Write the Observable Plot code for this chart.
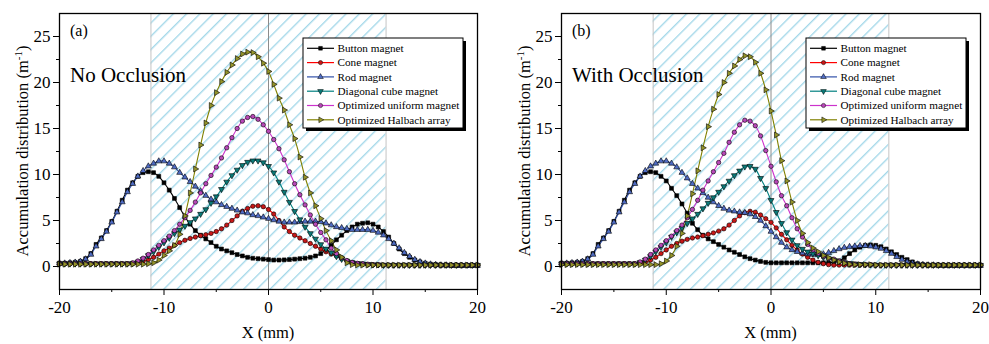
<!DOCTYPE html>
<html><head><meta charset="utf-8">
<script src="https://cdn.jsdelivr.net/npm/d3@7"></script>
<script src="https://cdn.jsdelivr.net/npm/@observablehq/plot@0.6"></script>
<style>
html,body{margin:0;padding:0;background:#fff;}
#wrap{display:flex;width:989px;height:344px;overflow:hidden;}
svg{display:block;}
svg, svg text, svg tspan{font-family:"Liberation Serif","Times New Roman",Times,serif !important;}
</style></head><body><div id="wrap"></div>
<script>
// ---------- data ----------
const xs = [-20,-19.5,-19,-18.5,-18,-17.5,-17,-16.5,-16,-15.5,
  -15,-14.5,-14,-13.5,-13,-12.5,-12,-11.5,-11,-10.5,
  -10,-9.5,-9,-8.5,-8,-7.5,-7,-6.5,-6,-5.5,
  -5,-4.5,-4,-3.5,-3,-2.5,-2,-1.5,-1,-0.5,
  0,0.5,1,1.5,2,2.5,3,3.5,4,4.5,
  5,5.5,6,6.5,7,7.5,8,8.5,9,9.5,
  10,10.5,11,11.5,12,12.5,13,13.5,14,14.5,
  15,15.5,16,16.5,17,17.5,18,18.5,19,19.5,
  20];

const seriesNames = ["Button magnet","Cone magnet","Rod magnet","Diagonal cube magnet","Optimized uniform magnet","Optimized Halbach array"];

// Panel (a) No Occlusion
const buttonA = [0.35,0.35,0.4,0.45,0.55,0.85,1.4,2.4,3.1,3.9,
  4.9,6.0,7.2,8.3,9.1,9.8,10.2,10.3,10.2,9.8,
  9.1,8.3,7.4,6.4,5.4,4.6,3.9,3.4,3.0,2.6,
  2.2,1.9,1.7,1.5,1.3,1.15,1.0,0.9,0.85,0.8,
  0.75,0.7,0.7,0.72,0.75,0.8,0.85,0.9,1.0,1.15,
  1.4,1.8,2.3,2.9,3.4,3.9,4.3,4.6,4.7,4.75,
  4.6,4.3,3.8,3.2,2.5,1.9,1.4,1.0,0.7,0.5,
  0.35,0.25,0.2,0.15,0.15,0.1,0.1,0.1,0.1,0.1,
  0.1];
const coneA = [0.3,0.3,0.3,0.3,0.3,0.3,0.3,0.3,0.3,0.3,
  0.3,0.3,0.3,0.3,0.3,0.4,0.55,0.75,1.0,1.35,
  1.7,2.0,2.3,2.6,2.85,3.05,3.2,3.35,3.45,3.6,
  3.8,4.1,4.5,5.0,5.5,6.0,6.3,6.55,6.6,6.5,
  6.2,5.7,5.0,4.3,3.8,3.4,3.1,2.8,2.5,2.2,
  1.9,1.6,1.35,1.15,0.9,0.6,0.4,0.3,0.25,0.2,
  0.18,0.16,0.15,0.15,0.15,0.15,0.15,0.15,0.15,0.15,
  0.15,0.15,0.15,0.15,0.15,0.15,0.15,0.15,0.15,0.15,
  0.15];
const rodA = [0.35,0.35,0.4,0.45,0.55,0.8,1.3,2.2,3.0,3.8,
  4.8,5.9,7.0,8.1,9.0,9.8,10.4,10.9,11.2,11.45,
  11.45,11.2,10.8,10.2,9.7,9.2,8.7,8.2,7.7,7.3,
  7.0,6.7,6.5,6.3,6.1,5.9,5.8,5.6,5.5,5.35,
  5.2,5.05,4.9,4.8,4.8,4.8,4.85,4.9,4.9,4.9,
  4.85,4.7,4.5,4.3,4.2,4.1,4.0,4.0,4.0,4.0,
  3.9,3.7,3.4,3.0,2.5,2.0,1.5,1.1,0.75,0.5,
  0.35,0.25,0.2,0.15,0.15,0.1,0.1,0.1,0.1,0.1,
  0.1];
const cubeA = [0.3,0.3,0.3,0.3,0.3,0.3,0.3,0.3,0.3,0.3,
  0.3,0.3,0.3,0.3,0.35,0.5,0.8,1.2,1.6,2.1,
  2.6,3.1,3.6,4.0,4.4,4.8,5.2,5.7,6.2,6.9,
  7.6,8.4,9.2,9.9,10.5,11.0,11.35,11.5,11.5,11.3,
  10.9,10.2,9.2,8.1,7.0,6.0,5.1,4.3,3.6,3.0,
  2.4,1.9,1.5,1.1,0.8,0.6,0.45,0.35,0.3,0.25,
  0.2,0.2,0.15,0.15,0.15,0.15,0.15,0.15,0.15,0.15,
  0.15,0.15,0.15,0.15,0.15,0.15,0.15,0.15,0.15,0.15,
  0.15];
const uniformA = [0.3,0.3,0.3,0.3,0.3,0.3,0.3,0.3,0.3,0.3,
  0.3,0.3,0.3,0.3,0.4,0.6,0.9,1.3,1.8,2.3,
  2.8,3.3,3.9,4.6,5.3,6.1,7.0,8.0,9.0,9.9,
  10.8,11.8,12.9,14.0,15.0,15.8,16.2,16.3,16.0,15.4,
  14.7,13.8,12.8,11.6,10.3,9.0,7.8,6.7,5.6,4.6,
  3.7,2.9,2.0,1.4,0.95,0.65,0.45,0.35,0.3,0.25,
  0.2,0.2,0.15,0.15,0.15,0.15,0.15,0.15,0.15,0.15,
  0.15,0.15,0.15,0.15,0.15,0.15,0.15,0.15,0.15,0.15,
  0.15];
const halbachA = [0.25,0.25,0.25,0.25,0.25,0.25,0.25,0.25,0.25,0.25,
  0.25,0.25,0.25,0.25,0.25,0.25,0.25,0.3,0.4,0.7,
  1.2,1.7,2.3,3.5,5.5,8.0,10.6,13.2,15.6,17.5,
  18.9,20.1,21.1,21.9,22.6,23.1,23.3,23.25,22.8,22.1,
  21.2,19.8,18.3,17.0,15.4,13.9,11.9,9.7,8.0,6.6,
  5.2,3.9,2.8,1.8,1.0,0.4,0.2,0.15,0.15,0.15,
  0.15,0.15,0.15,0.15,0.15,0.15,0.15,0.15,0.15,0.15,
  0.15,0.15,0.15,0.15,0.15,0.15,0.15,0.15,0.15,0.15,
  0.15];

// Panel (b) With Occlusion
const buttonB = [0.35,0.35,0.4,0.45,0.55,0.85,1.4,2.4,3.1,3.9,
  4.9,6.0,7.2,8.3,9.1,9.8,10.2,10.3,10.2,9.8,
  9.3,8.5,7.7,6.8,5.8,4.7,4.0,3.4,3.0,2.7,
  2.4,2.1,1.8,1.55,1.3,1.05,0.85,0.7,0.55,0.45,
  0.4,0.4,0.4,0.4,0.4,0.4,0.4,0.4,0.4,0.4,
  0.4,0.4,0.45,0.6,0.95,1.4,1.8,2.1,2.3,2.35,
  2.3,2.15,1.9,1.6,1.3,1.0,0.75,0.5,0.3,0.2,
  0.15,0.15,0.12,0.1,0.1,0.1,0.1,0.1,0.1,0.1,
  0.1];
const coneB = [0.3,0.3,0.3,0.3,0.3,0.3,0.3,0.3,0.3,0.3,
  0.3,0.3,0.3,0.3,0.3,0.35,0.45,0.7,1.0,1.4,
  1.8,2.2,2.5,2.75,2.95,3.1,3.2,3.35,3.5,3.65,
  3.85,4.1,4.5,5.0,5.5,5.85,6.0,5.9,5.6,5.2,
  4.8,4.2,3.5,2.9,2.3,1.8,1.35,1.0,0.7,0.45,
  0.3,0.2,0.15,0.15,0.15,0.15,0.15,0.15,0.15,0.15,
  0.15,0.15,0.15,0.15,0.15,0.15,0.15,0.15,0.15,0.15,
  0.15,0.15,0.15,0.15,0.15,0.15,0.15,0.15,0.15,0.15,
  0.15];
const rodB = [0.35,0.35,0.4,0.45,0.55,0.8,1.3,2.2,3.0,3.8,
  4.8,5.9,7.0,8.1,9.0,9.8,10.4,10.9,11.2,11.45,
  11.45,11.2,10.8,10.2,9.6,9.0,8.5,8.0,7.5,7.0,
  6.6,6.3,6.1,6.0,5.9,5.85,5.7,5.4,5.0,4.4,
  3.8,3.2,2.6,2.1,1.8,1.6,1.45,1.35,1.3,1.3,
  1.35,1.5,1.7,1.9,2.05,2.15,2.2,2.25,2.25,2.2,
  2.1,1.95,1.7,1.4,1.05,0.75,0.5,0.35,0.25,0.2,
  0.15,0.15,0.12,0.1,0.1,0.1,0.1,0.1,0.1,0.1,
  0.1];
const cubeB = [0.3,0.3,0.3,0.3,0.3,0.3,0.3,0.3,0.3,0.3,
  0.3,0.3,0.3,0.3,0.3,0.45,0.7,1.1,1.6,2.1,
  2.6,3.2,3.7,4.2,4.7,5.2,5.7,6.3,6.9,7.5,
  8.1,8.7,9.3,9.9,10.4,10.85,10.9,10.6,9.6,8.5,
  7.2,5.9,4.7,3.7,2.9,2.3,1.9,1.6,1.4,1.2,
  1.0,0.85,0.7,0.55,0.45,0.35,0.3,0.25,0.2,0.2,
  0.15,0.15,0.15,0.15,0.15,0.15,0.15,0.15,0.15,0.15,
  0.15,0.15,0.15,0.15,0.15,0.15,0.15,0.15,0.15,0.15,
  0.15];
const uniformB = [0.3,0.3,0.3,0.3,0.3,0.3,0.3,0.3,0.3,0.3,
  0.3,0.3,0.3,0.3,0.3,0.5,0.8,1.3,1.8,2.3,
  2.8,3.3,3.9,4.5,5.3,6.2,7.2,8.3,9.3,10.3,
  11.3,12.3,13.5,14.6,15.4,15.9,15.8,15.3,14.2,12.6,
  10.9,9.2,7.7,6.6,5.3,4.1,3.2,2.4,1.8,1.4,
  1.1,0.9,0.8,0.6,0.4,0.3,0.25,0.2,0.2,0.2,
  0.15,0.15,0.15,0.15,0.15,0.15,0.15,0.15,0.15,0.15,
  0.15,0.15,0.15,0.15,0.15,0.15,0.15,0.15,0.15,0.15,
  0.15];
const halbachB = [0.2,0.2,0.2,0.2,0.2,0.2,0.2,0.2,0.2,0.2,
  0.2,0.2,0.2,0.2,0.2,0.2,0.2,0.2,0.2,0.3,
  0.6,1.2,2.2,3.6,5.5,7.9,10.4,12.9,15.2,17.1,
  18.7,20.0,21.0,21.8,22.5,22.9,22.8,22.2,21.0,19.2,
  16.9,14.3,11.5,9.3,7.0,5.0,3.6,2.6,2.0,1.6,
  1.2,0.95,0.7,0.5,0.35,0.25,0.2,0.2,0.2,0.2,
  0.15,0.15,0.15,0.15,0.15,0.15,0.15,0.15,0.15,0.15,
  0.15,0.15,0.15,0.15,0.15,0.15,0.15,0.15,0.15,0.15,
  0.15];

const xDomain = [-20, 20];
const yDomain = [-2.5, 27.5];
const xMajorTicks = [-20, -10, 0, 10, 20];
const xMinorTicks = [-15, -5, 5, 15];
const yMajorTicks = [0, 5, 10, 15, 20, 25];
const yMinorTicks = [2.5, 7.5, 12.5, 17.5, 22.5];
const hatchZone = [{lo: -11.25, hi: 11.25}];
const hatchEdges = [-11.25, 11.25];
const centerLine = [0];

// ---------- styles ----------
const FONT = "Liberation Serif, Times New Roman, Times, serif";
const STY = [
  {stroke: "#000000", fill: "#000000", symbol: "square", rotate: 0, d3sym: d3.symbolSquare},
  {stroke: "#ff0000", fill: "#c81818", symbol: "circle", rotate: 0, d3sym: d3.symbolCircle},
  {stroke: "#3050a8", fill: "#4f6cc4", symbol: "triangle", rotate: 0, d3sym: d3.symbolTriangle},
  {stroke: "#008080", fill: "#0a7a78", symbol: "triangle", rotate: 180, d3sym: d3.symbolTriangle},
  {stroke: "#cc33cc", fill: "#b848b8", symbol: "circle", rotate: 0, d3sym: d3.symbolCircle},
  {stroke: "#808000", fill: "#94942a", symbol: "triangle", rotate: 90, d3sym: d3.symbolTriangle}
];

const panels = [
  {id: "a", tag: "(a)", title: "No Occlusion", series: [buttonA, coneA, rodA, cubeA, uniformA, halbachA], width: 500, ml: 59, mr: 23},
  {id: "b", tag: "(b)", title: "With Occlusion", series: [buttonB, coneB, rodB, cubeB, uniformB, halbachB], width: 489, ml: 61, mr: 9}
];

const MT = 13, MB = 55, H = 344;

for (const P of panels) {
  const lines = [], dots = [];
  P.series.forEach((arr, k) => {
    const rows = xs.map((x, i) => ({x, y: arr[i]}));
    const st = STY[k];
    lines.push(Plot.line(rows, {x: "x", y: "y", stroke: st.stroke, strokeWidth: 1.1, curve: "catmull-rom"}));
    dots.push(Plot.dot(rows, {x: "x", y: "y", symbol: st.symbol, rotate: st.rotate, r: 2.2,
      fill: st.fill, stroke: "#000", strokeWidth: 0.6}));
  });
  const svg = Plot.plot({
    width: P.width, height: H,
    marginLeft: P.ml, marginRight: P.mr, marginTop: MT, marginBottom: MB,
    style: {fontFamily: FONT, fontSize: "17px", background: "#fff", color: "#000", overflow: "visible"},
    x: {domain: xDomain},
    y: {domain: yDomain},
    marks: [
      Plot.rect(hatchZone, {x1: "lo", x2: "hi", y1: () => yDomain[0], y2: () => yDomain[1], fill: `url(#hatch-${P.id})`}),
      Plot.ruleX(hatchEdges, {stroke: "#c4c4c4", strokeWidth: 1}),
      Plot.ruleX(centerLine, {stroke: "#8c8c8c", strokeWidth: 1}),
      ...lines,
      ...dots,
      Plot.axisX({ticks: xMajorTicks, tickSize: 6, tickPadding: 5, tickFormat: d => String(d), label: null}),
      Plot.axisX({ticks: xMinorTicks, tickSize: 3, tickFormat: () => "", label: null}),
      Plot.axisY({ticks: yMajorTicks, tickSize: 6, tickPadding: 3, tickFormat: d => String(d), label: null}),
      Plot.axisY({ticks: yMinorTicks, tickSize: 3, tickFormat: () => "", label: null}),
      Plot.frame({stroke: "#000", strokeWidth: 1.3})
    ]
  });

  const s = d3.select(svg);
  // hatch pattern
  const defs = s.insert("defs", ":first-child");
  const pat = defs.append("pattern").attr("id", `hatch-${P.id}`)
    .attr("patternUnits", "userSpaceOnUse").attr("width", 9.4).attr("height", 9.4)
    .attr("patternTransform", "rotate(45)");
  pat.append("rect").attr("width", 9.4).attr("height", 9.4).attr("fill", "#fff");
  pat.append("line").attr("x1", 0.7).attr("y1", 0).attr("x2", 0.7).attr("y2", 9.4)
    .attr("stroke", "#9fd6e8").attr("stroke-width", 1.3);

  const frameW = P.width - P.ml - P.mr;
  const frameR = P.width - P.mr;
  const txt = s.append("g").attr("fill", "#000").attr("text-anchor", "start");

  // panel tag and title
  txt.append("text").attr("x", P.ml + 11).attr("y", 36).attr("font-size", 16).text(P.tag);
  txt.append("text").attr("x", P.ml + 11).attr("y", 82).attr("font-size", 21).text(P.title);

  // axis titles
  txt.append("text").attr("x", P.ml + frameW / 2).attr("y", 338).attr("text-anchor", "middle")
    .attr("font-size", 16.5).text("X (mm)");
  const yl = txt.append("text").attr("text-anchor", "middle").attr("font-size", 16.5)
    .attr("transform", `translate(${P.ml - 31},${MT + (H - MT - MB) / 2}) rotate(-90)`);
  yl.append("tspan").text("Accumulation distribution (m");
  yl.append("tspan").attr("dy", -6).attr("font-size", 11).text("-1");
  yl.append("tspan").attr("dy", 6).text(")");

  // legend
  const lx = frameR - 174, ly = 38, lw = 160, lh = 90;
  const lg = s.append("g").attr("transform", `translate(${lx},${ly})`).attr("text-anchor", "start");
  lg.append("rect").attr("x", 3).attr("y", 3).attr("width", lw).attr("height", lh).attr("fill", "#000");
  lg.append("rect").attr("width", lw).attr("height", lh).attr("fill", "#fff").attr("stroke", "#000").attr("stroke-width", 1);
  seriesNames.forEach((name, k) => {
    const st = STY[k];
    const yy = 10.3 + k * 14.3;
    lg.append("line").attr("x1", 4).attr("x2", 31).attr("y1", yy).attr("y2", yy)
      .attr("stroke", st.stroke).attr("stroke-width", 1.2);
    lg.append("path").attr("d", d3.symbol(st.d3sym, 14)())
      .attr("transform", `translate(17.5,${yy}) rotate(${st.rotate})`)
      .attr("fill", st.fill).attr("stroke", "#000").attr("stroke-width", 0.5);
    lg.append("text").attr("x", 34.5).attr("y", yy + 3.8)
      .attr("font-size", 11.2).text(name);
  });

  document.getElementById("wrap").appendChild(svg);
}
</script>
</body></html>
